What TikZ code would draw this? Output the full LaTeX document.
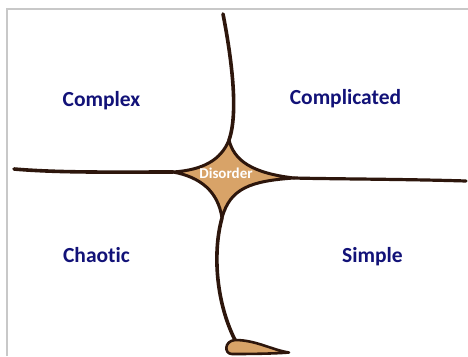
\documentclass[tikz,border=0pt]{standalone}
\usepackage{fontspec}
\setmainfont[Ligatures=NoCommon]{Carlito}
\definecolor{navy}{RGB}{18,18,120}
\definecolor{brownline}{RGB}{45,22,12}
\definecolor{tan}{RGB}{216,163,104}
\definecolor{framegray}{RGB}{200,200,200}
\begin{document}
\begin{tikzpicture}[x=1pt,y=-1pt,
  domainlabel/.style={text=navy,font=\fontsize{21.5}{24}\selectfont\bfseries,anchor=base,inner sep=0pt},
  arm/.style={draw=brownline,line width=3.6pt,line cap=round},
  blob/.style={draw=brownline,fill=tan,line width=3pt,line join=round}]
\useasboundingbox (0,0) rectangle (468,356);
\fill[white] (0,0) rectangle (468,356);
% frame
\draw[framegray,line width=1.6pt] (7,356) -- (7,9) -- (468,9);
% star tips
\coordinate (L) at (173,172);
\coordinate (T) at (229,140);
\coordinate (R) at (294,178);
\coordinate (B) at (222,218);
\coordinate (topend) at (223,14);
\coordinate (leftend) at (14,169);
\coordinate (rightend) at (466,181);
\coordinate (foot) at (235,340);
% arms
\draw[arm] (topend) .. controls (231,55) and (239,112) .. (T);
\draw[arm] (leftend) .. controls (60,173) and (120,172) .. (L);
\draw[arm,line width=3.2pt] (R) .. controls (330,179) and (400,179) .. (rightend);
\draw[arm] (B) .. controls (213,250) and (215,300) .. (foot);
% star
\draw[blob] (L) .. controls (203,170) and (221,160) .. (T)
  .. controls (234,160) and (251,173) .. (R)
  .. controls (251,181) and (230,188) .. (B)
  .. controls (218,191) and (200,177) .. cycle;
% foot
\draw[blob,line width=2.6pt] (foot) .. controls (256,340) and (272,350) .. (289,352.5)
  .. controls (270,354) and (240,354) .. (232,354)
  .. controls (224,354) and (224,341) .. cycle;
% labels
\node[domainlabel] (complex) at (101.5,106) {Complex};
\node[domainlabel] (complicated) at (345.5,104) {Complicated};
\node[domainlabel] (chaotic) at (96.5,262) {Chaotic};
\node[domainlabel] (simple) at (372.5,262) {Simple};
\node[text=white,font=\fontsize{15}{17}\selectfont\bfseries,anchor=base,inner sep=0pt] (disorder) at (226,178.5) {Disorder};
\end{tikzpicture}
\end{document}
